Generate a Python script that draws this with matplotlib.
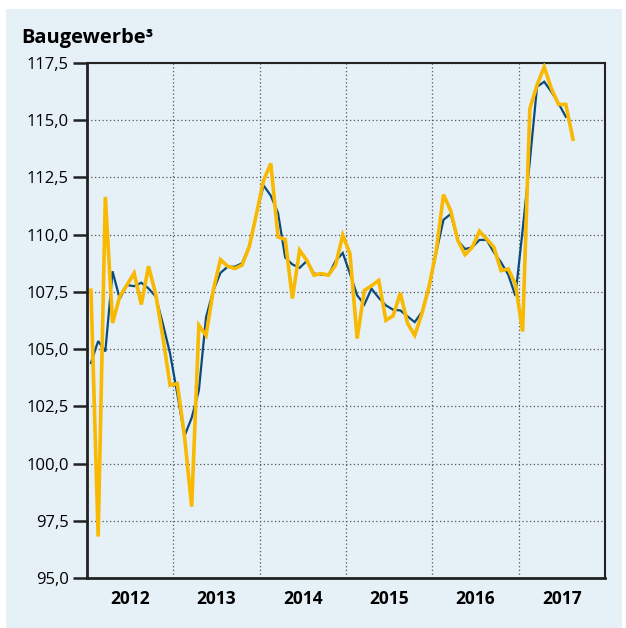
import matplotlib
matplotlib.use("Agg")
import matplotlib.pyplot as plt
from matplotlib.patches import Rectangle
import numpy as np

# Monthly index values, Jan 2012 onward
blue_values = [
    104.4, 105.35, 104.9, 108.4, 107.2, 107.8, 107.75, 107.9, 107.65, 107.3, 106.1, 104.8,
    103.05, 101.2, 102.0, 103.2, 106.4, 107.55, 108.33, 108.6, 108.6, 108.75, 109.5, 110.9,
    112.15, 111.7, 110.95, 109.0, 108.7, 108.55, 108.85, 108.3, 108.25, 108.23, 108.85, 109.2,
    108.3, 107.35, 106.95, 107.64, 107.24, 106.91, 106.72, 106.69, 106.43, 106.18, 106.62, 107.7,
    109.23, 110.65, 110.9, 109.74, 109.37, 109.45, 109.77, 109.77, 109.23, 108.79, 108.25, 107.33,
    110.2, 113.2, 116.46, 116.68, 116.24, 115.73, 115.15,
]
orange_values = [
    107.57, 96.81, 111.65, 106.14, 107.3, 107.8, 108.32, 106.95, 108.62, 107.4, 105.52, 103.42,
    103.49, 101.2, 98.12, 106.04, 105.6, 107.57, 108.91, 108.62, 108.52, 108.67, 109.47, 110.9,
    112.38, 113.11, 109.9, 109.79, 107.21, 109.32, 108.88, 108.23, 108.3, 108.23, 108.67, 109.98,
    109.17, 105.46, 107.56, 107.77, 108.0, 106.26, 106.46, 107.45, 106.13, 105.6, 106.55, 107.75,
    109.3, 111.75, 111.05, 109.74, 109.13, 109.45, 110.15, 109.81, 109.45, 108.43, 108.5, 107.84,
    105.77, 115.5, 116.53, 117.33, 116.38, 115.69, 115.69, 114.17,
]
start_year = 2012
years = [2012, 2013, 2014, 2015, 2016, 2017]
y_ticks = [95.0, 97.5, 100.0, 102.5, 105.0, 107.5, 110.0, 112.5, 115.0, 117.5]
title = "Baugewerbe³"

bg = "#e5f0f7"
blue_c = "#0b4a7d"
orange_c = "#f9b900"

x_blue = start_year + (np.arange(len(blue_values)) + 0.55) / 12
x_orange = start_year + (np.arange(len(orange_values)) + 0.55) / 12

fig = plt.figure(figsize=(6.26, 6.28), dpi=100)
fig.patch.set_facecolor("white")
fig.patches.append(Rectangle((6 / 626, 0), 616 / 626, 619 / 628, transform=fig.transFigure,
                             facecolor=bg, edgecolor="none", zorder=-10))

ax = fig.add_axes([87 / 626, 1 - 578 / 628, (605 - 87) / 626, (578 - 63) / 628])
ax.set_facecolor(bg)

ax.plot(x_blue, blue_values, color=blue_c, lw=1.6, zorder=3, solid_joinstyle="miter")
ax.plot(x_orange, orange_values, color=orange_c, lw=2.6, zorder=4, solid_joinstyle="miter")

ax.set_xlim(2012, 2018)
ax.set_ylim(95, 117.5)
ax.set_yticks(y_ticks)
ax.set_yticklabels([f"{v:.1f}".replace(".", ",") for v in y_ticks], fontsize=12,
                   family="Open Sans")
ax.set_xticks(list(range(2013, 2018)))
ax.set_xticklabels([])
ax.set_xticks([y + 0.5 for y in years], minor=True)
ax.set_xticklabels([str(y) for y in years], minor=True, fontsize=12.5, fontweight="bold",
                   family="Open Sans")
ax.tick_params(axis="x", which="both", length=0, pad=9)
ax.tick_params(axis="y", length=10, width=1.8, direction="out", pad=3, color="#222222")

ax.grid(True, which="major", axis="both", linestyle=(0, (1, 2)), color="#555555", lw=0.9)
for s in ["left", "bottom"]:
    ax.spines[s].set_linewidth(2.0)
    ax.spines[s].set_color("#222222")
for s in ["top", "right"]:
    ax.spines[s].set_linewidth(1.5)
    ax.spines[s].set_color("#222222")

fig.text(21 / 626, 1 - 38 / 628, title, fontsize=14.5, fontweight="bold",
         family="Open Sans", va="center", ha="left")

fig.savefig("out.png", dpi=100, facecolor=fig.get_facecolor())
